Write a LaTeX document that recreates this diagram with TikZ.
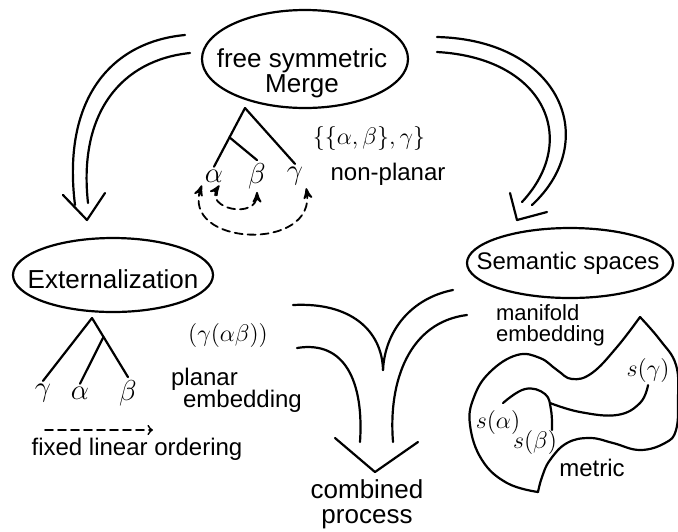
\documentclass[tikz,border=0pt]{standalone}
\usepackage{fontspec}
\setmainfont{Liberation Sans}
\usepackage{tikz}
\usetikzlibrary{arrows, shapes.geometric, calc}

\begin{document}
\begin{tikzpicture}[x=0.5pt, y=-0.5pt, line width=1.1pt, >=stealth', line cap=round, line join=round]
    \tikzstyle{bubble}=[shape=ellipse, fill=none, draw=black, inner sep=0pt]
    \tikzstyle{h1}=[shape=rectangle, fill=none, draw=none, text=black, align=center, inner sep=1pt, font=\fontsize{13}{12.5}\selectfont]
    \tikzstyle{h2}=[shape=rectangle, fill=none, draw=none, text=black, align=left, inner sep=1pt, font=\fontsize{12}{11}\selectfont]
    \tikzstyle{leaf}=[shape=rectangle, fill=none, draw=none, inner sep=1pt, font=\fontsize{14.4}{14}\selectfont]
    \tikzstyle{dashloop}=[dash pattern=on 4pt off 2.5pt, <->, line width=0.9pt]

    \useasboundingbox (0,0) rectangle (678,531);

    % ellipses
    \node[bubble, minimum width=103pt, minimum height=49pt] (merge) at (305,59) {};
    \node[h1] (merget) at (302,73) {free symmetric\\Merge};
    \node[bubble, minimum width=100pt, minimum height=37pt] (ext) at (113,275) {};
    \node[h1] (extt) at (113,279) {Externalization};
    \node[bubble, minimum width=103pt, minimum height=35pt] (sem) at (570,263) {};
    \node[h1, font=\fontsize{12}{12}\selectfont] (semt) at (568,263) {Semantic spaces};

    % non-planar tree
    \coordinate (t1) at (245,108);
    \node[leaf] (la) at (214,176) {$\alpha$};
    \node[leaf] (lb) at (257,176) {$\beta$};
    \node[leaf] (lc) at (295,176) {$\gamma$};
    \draw (t1) -- (la.north);
    \draw (t1) -- (lc.north);
    \draw ($(t1)!0.5!(la.north)$) -- (lb.north);
    \node[h2] (set) at (369,138) {$\{\{\alpha,\beta\},\gamma\}$};
    \node[h2] (np) at (388,174) {non-planar};
    \draw[dashloop] (la.-60) to[out=235, in=-90, looseness=1.9] (lb.south);
    \draw[dashloop] (la.south west) to[out=250, in=-80, looseness=1.6] (lc.south east);

    % planar tree
    \coordinate (t2) at (92,318);
    \node[leaf] (pc) at (43,393) {$\gamma$};
    \node[leaf] (pa) at (80,393) {$\alpha$};
    \node[leaf] (pb) at (128,393) {$\beta$};
    \draw (t2) -- (pc.north);
    \draw (t2) -- (pb.north);
    \draw ($(t2)!0.32!(pb.north)$) -- (pa.north);
    \node[h2] (br) at (228,335) {$(\gamma(\alpha\beta))$};
    \node[h2, anchor=west] (pe) at (168,390) {planar\\[-1pt]\hspace*{6pt}embedding};
    \coordinate (o1) at (45,430);
    \coordinate (o2) at (153,430);
    \draw[dash pattern=on 4pt off 2.5pt, line width=0.9pt, -to] (o1) -- (o2);
    \node[h2] (fo) at (137,449) {fixed linear ordering};

    % merge -> externalization
    \draw (185,35) .. controls (110,42) and (62,100) .. (75,205);
    \draw (190,53) .. controls (122,60) and (78,112) .. (88,203);
    \draw (63,195) -- (87,220) -- (105,193);

    % merge -> semantic spaces
    \draw (437,37) .. controls (560,40) and (602,140) .. (532,205);
    \draw (437,52) .. controls (545,58) and (580,140) .. (522,202);
    \draw (510,193) -- (517,220) -- (547,212);

    % combined
    \draw (293,305) .. controls (350,302) and (382,330) .. (383,370);
    \draw (453,290) .. controls (412,298) and (385,330) .. (383,370);
    \draw (297,348) .. controls (345,340) and (364,382) .. (360,442);
    \draw (467,315) .. controls (410,322) and (388,380) .. (393,442);
    \draw (335,438) -- (375,472) -- (418,442);
    \node[h1] (cp) at (367,504) {combined\\process};

    % manifold
    \node[h2, anchor=west, font=\fontsize{11}{10.5}\selectfont] (mf) at (493,325) {manifold\\embedding};
    \draw plot[smooth, tension=0.7] coordinates {(538,492) (507,483) (482,460) (470,425) (474,397) (490,372) (517,355) (540,358) (557,370) (572,379) (592,373) (617,347) (640,317)};
    \draw plot[smooth, tension=0.7] coordinates {(640,317) (660,340) (676,365) (678,400) (676,430) (665,443) (640,450) (613,443) (590,438) (567,443) (550,460) (542,477) (538,492)};
    \node[leaf, font=\fontsize{12}{12}\selectfont] (sg) at (648,370) {$s(\gamma)$};
    \node[leaf, font=\fontsize{12}{12}\selectfont] (sa) at (498,422) {$s(\alpha)$};
    \node[leaf, font=\fontsize{12}{12}\selectfont] (sb) at (535,442) {$s(\beta)$};
    \node[h2] (mt) at (592,468) {metric};
    \draw plot[smooth, tension=0.7] coordinates {(503,403) (525,389) (545,394) (551,410) (552,430)};
    \draw plot[smooth, tension=0.7] coordinates {(550,403) (580,412) (617,415) (640,403) (sg.south)};
\end{tikzpicture}
\end{document}
